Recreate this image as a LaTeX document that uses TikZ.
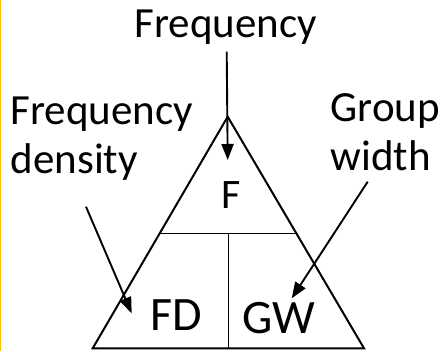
\documentclass[tikz,border=0pt]{standalone}
\usepackage{fontspec}
\setmainfont{Carlito}
\usetikzlibrary{arrows.meta,calc}

\definecolor{edgegold}{RGB}{255,192,0}

\tikzset{
  label text/.style={inner sep=0pt, anchor=base west, align=left,
    font=\fontsize{43}{49}\selectfont},
  cell text/.style={inner sep=0pt, anchor=base west,
    font=\fontsize{48}{56}\selectfont},
  outline/.style={line width=2pt, line join=miter},
  divider/.style={line width=1.3pt},
  pointer/.style={line width=1.9pt,
    -{Triangle[width=12pt,length=16pt]}}
}

\begin{document}
\begin{tikzpicture}[x=1pt,y=-1pt]
  \useasboundingbox (0,0) rectangle (441,351);

  % thin gold rule along the left edge
  \draw[edgegold, line width=1.2pt] (0.6,0) -- (0.6,351);

  % triangle corners
  \coordinate (apex) at (227.7,116.7);
  \coordinate (bl) at (92.7,348.3);
  \coordinate (br) at (364,348.3);

  % dividing lines
  \coordinate (ml) at ($(apex)!0.5035!(bl)$);
  \coordinate (mr) at ($(apex)!0.5035!(br)$);
  \coordinate (mm) at (228.3,233.3);
  \coordinate (mb) at (228.3,348.3);
  \draw[divider] (ml) -- (mr);
  \draw[divider] (mm) -- (mb);

  \draw[outline] (apex) -- (br) -- (bl) -- cycle;

  % cell labels
  \node[label text, font=\fontsize{42}{49}\selectfont] (f) at (220.8,208.3) {F};
  \node[cell text] (fd) at (150.5,330) {FD};
  \node[cell text] (gw) at (242.5,333.3) {GW};

  % outside labels (base anchor sits on the last line)
  \node[label text, anchor=base] (freq) at (226,37) {Frequency};
  \node[label text] (fdens) at (10.5,173.5) {Frequency\\density};
  \node[label text] (gwidth) at (330.5,170) {Group\\width};

  % pointer ends
  \coordinate (freq start) at (226.7,51.7);
  \coordinate (freq end) at (227.7,160);
  \coordinate (fd start) at (86,206.7);
  \coordinate (fd end) at (131.7,313.3);
  \coordinate (gw start) at (367.7,181.7);
  \coordinate (gw end) at (291.7,298.3);

  \draw[pointer] (freq start) -- (freq end);
  \draw[pointer] (fd start) -- (fd end);
  \draw[pointer] (gw start) -- (gw end);
\end{tikzpicture}
\end{document}
